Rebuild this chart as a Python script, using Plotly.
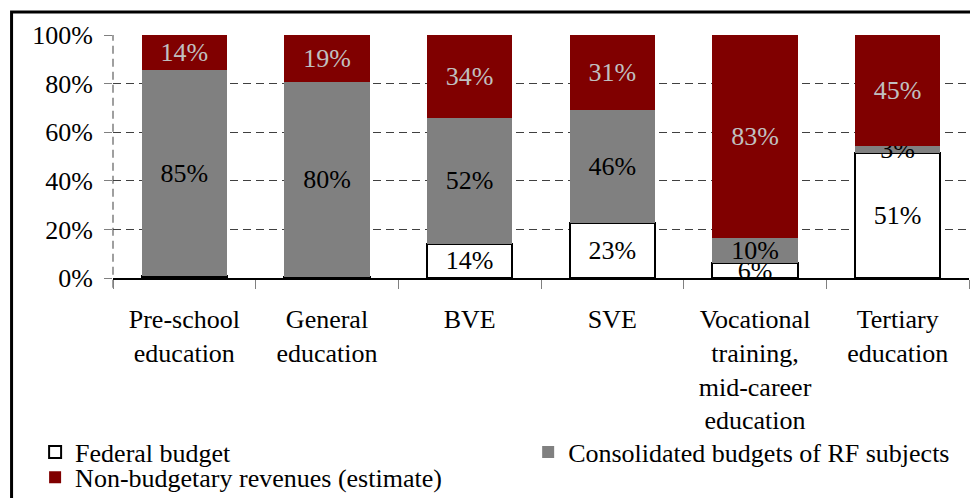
import plotly.graph_objects as go

# Datos
categorias = [
    "Pre-school<br>education",
    "General<br>education",
    "BVE",
    "SVE",
    "Vocational<br>training,<br>mid-career<br>education",
    "Tertiary<br>education",
]
federal = [0.8, 0.5, 14.0, 22.8, 6.2, 51.4]
consolidado = [84.6, 80.3, 52.0, 46.2, 10.3, 3.1]
extra = [14.6, 19.2, 34.0, 31.0, 83.5, 45.5]

txt_federal = ["", "", "14%", "23%", "6%", "51%"]
txt_consolidado = ["85%", "80%", "52%", "46%", "10%", "3%"]
txt_extra = ["14%", "19%", "34%", "31%", "83%", "45%"]

ticks_y = [0, 20, 40, 60, 80, 100]
etiquetas_y = ["0%", "20%", "40%", "60%", "80%", "100%"]

FUENTE = "'Times New Roman', 'Liberation Serif', serif"
ROJO = "#800000"
GRIS = "#808080"

fig = go.Figure()

fig.add_trace(go.Bar(
    x=categorias, y=federal, name="Federal budget",
    marker=dict(color="white", line=dict(color="black", width=2)),
    text=txt_federal, texttemplate="%{text}",
    textposition="inside", insidetextanchor="middle", constraintext="none",
    textfont=dict(color="black", size=26, family=FUENTE),
    legend="legend",
))
fig.add_trace(go.Bar(
    x=categorias, y=consolidado, name="Consolidated budgets of RF subjects",
    marker=dict(color=GRIS, line=dict(width=0)),
    text=txt_consolidado, texttemplate="%{text}",
    textposition="inside", insidetextanchor="middle", constraintext="none",
    textfont=dict(color="black", size=26, family=FUENTE),
    legend="legend2",
))
fig.add_trace(go.Bar(
    x=categorias, y=extra, name="Non-budgetary revenues (estimate)",
    marker=dict(color=ROJO, line=dict(width=0)),
    text=txt_extra, texttemplate="%{text}",
    textposition="inside", insidetextanchor="middle", constraintext="none",
    textfont=dict(color="#C0C0C0", size=26, family=FUENTE),
    legend="legend3",
))

# marco exterior y eje vertical punteado
fig.add_shape(type="rect", xref="paper", yref="paper",
              x0=-0.1185, x1=1.05, y0=-1.3, y1=1.095,
              line=dict(color="black", width=3), layer="above")
fig.add_shape(type="line", xref="paper", yref="paper",
              x0=0, x1=0, y0=-0.04, y1=1,
              line=dict(color=GRIS, width=1.5, dash="8px,5px"), layer="below")

leyenda = dict(
    orientation="h", xanchor="left", yanchor="middle",
    font=dict(size=26, family=FUENTE, color="black"),
    bgcolor="rgba(0,0,0,0)", borderwidth=0,
    itemclick=False,
)

# la página tiene 8px de margen, por eso 970x490
fig.update_layout(
    width=970, height=490,
    margin=dict(l=105, r=9, t=27, b=220, autoexpand=False),
    plot_bgcolor="white", paper_bgcolor="white",
    barmode="stack", bargap=0.4,
    font=dict(family=FUENTE, size=26, color="black"),
    showlegend=True,
    legend=dict(leyenda, x=-0.091, y=-0.716),
    legend2=dict(leyenda, x=0.485, y=-0.716),
    legend3=dict(leyenda, x=-0.091, y=-0.82),
    xaxis=dict(
        showline=True, linecolor="black", linewidth=1.5,
        tickson="boundaries", ticks="outside", ticklen=9, tickcolor=GRIS,
        showgrid=False, tickfont=dict(size=26, family=FUENTE),
        ticklabelstandoff=17,
    ),
    yaxis=dict(
        range=[0, 100], tickmode="array", tickvals=ticks_y, ticktext=etiquetas_y,
        showgrid=True, gridcolor="#404040", gridwidth=1, griddash="8px,5px",
        zeroline=False, showline=False,
        ticks="outside", ticklen=8, tickcolor=GRIS,
        tickfont=dict(size=26, family=FUENTE),
        ticklabelstandoff=6,
    ),
)

fig.write_html("out.html")
